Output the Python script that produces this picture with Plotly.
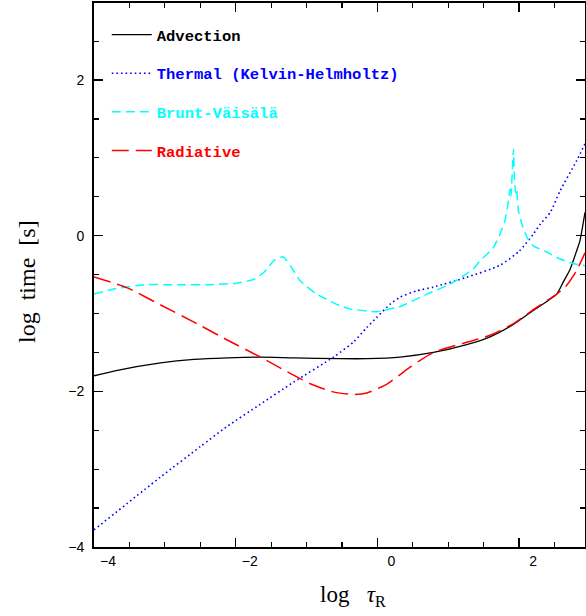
import plotly.graph_objects as go

# ---- data (log tau_R vs log time [s]) ----
advection_x = [-4.00, -3.67, -3.06, -2.59, -2.12, -1.65, -1.18, -0.53, -0.15, 0.32, 0.79, 1.26, 1.59, 1.92, 2.20, 2.53, 2.62, 2.72, 2.81, 2.86, 2.93]
advection_y = [-1.80, -1.73, -1.635, -1.59, -1.57, -1.56, -1.57, -1.58, -1.58, -1.56, -1.50, -1.40, -1.30, -1.14, -0.96, -0.75, -0.60, -0.43, -0.20, -0.06, 0.30]

thermal_x = [-4.00, -3.06, -2.50, -2.12, -1.66, -1.18, -0.62, -0.33, -0.15, -0.01, 0.18, 0.32, 0.55, 0.79, 1.26, 1.73, 2.00, 2.20, 2.30, 2.44, 2.58, 2.81, 2.93]
thermal_y = [-3.78, -3.10, -2.71, -2.45, -2.17, -1.88, -1.56, -1.36, -1.18, -1.05, -0.88, -0.79, -0.71, -0.66, -0.535, -0.38, -0.20, 0.02, 0.15, 0.30, 0.58, 0.96, 1.18]

brunt_x = [-4.00, -3.72, -3.29, -2.82, -2.35, -1.98, -1.74, -1.60, -1.46, -1.33, -1.23, -1.09, -0.86, -0.53, -0.39, -0.01, 0.32, 0.70, 1.03, 1.35, 1.45, 1.59, 1.64, 1.73, 1.80, 1.85, 1.87, 1.885, 1.92, 1.935, 1.95, 1.965, 1.99, 2.04, 2.11, 2.20, 2.39, 2.58, 2.77, 2.93]
brunt_y = [-0.75, -0.685, -0.63, -0.63, -0.63, -0.61, -0.56, -0.47, -0.32, -0.27, -0.385, -0.58, -0.75, -0.90, -0.94, -0.976, -0.91, -0.75, -0.62, -0.43, -0.32, -0.20, -0.15, 0.02, 0.19, 0.45, 0.60, 0.50, 1.11, 0.72, 0.55, 0.60, 0.32, 0.15, -0.02, -0.13, -0.21, -0.30, -0.36, -0.385]

radiative_x = [-4.00, -3.53, -3.06, -2.59, -2.12, -1.65, -1.27, -0.94, -0.61, -0.33, -0.15, 0.13, 0.46, 0.79, 1.26, 1.59, 1.92, 2.20, 2.53, 2.65, 2.81, 2.93]
radiative_y = [-0.53, -0.67, -0.89, -1.11, -1.34, -1.56, -1.75, -1.905, -2.01, -2.04, -2.02, -1.91, -1.69, -1.50, -1.37, -1.28, -1.13, -0.95, -0.75, -0.66, -0.45, -0.22]

series_names = ["Advection", "Thermal (Kelvin-Helmholtz)", "Brunt-V\u00e4is\u00e4l\u00e4", "Radiative"]
series_colors = ["#000000", "#0000ff", "#00ffff", "#ff0000"]

fig = go.Figure()

def add(x, y, i, dash, width, shape="spline", smoothing=0.6):
    fig.add_trace(go.Scatter(
        x=x, y=y, mode="lines",
        name="<span style='color:%s'>%s</span>" % (series_colors[i], series_names[i]),
        legendgroup="g%d" % i,
        line=dict(color=series_colors[i], dash=dash, width=width, shape=shape, smoothing=smoothing),
    ))

add(advection_x, advection_y, 0, "solid", 1.3)
add(thermal_x, thermal_y, 1, "1.6px,3px", 1.6)
add(brunt_x, brunt_y, 2, "9px,5px", 1.5, smoothing=0.4)
add(radiative_x, radiative_y, 3, "17px,7px", 1.5)

axis_common = dict(
    showline=True, linecolor="black", linewidth=2, mirror="allticks",
    ticks="inside", ticklen=9, tickwidth=1.5, tickcolor="black",
    showgrid=False, zeroline=False, automargin=False,
    tickfont=dict(family="Liberation Sans, Arial, sans-serif", size=14, color="black"),
)

fig.update_layout(
    template="none",
    width=586, height=616,
    margin=dict(l=94, r=1, t=3, b=69, autoexpand=False),
    plot_bgcolor="white", paper_bgcolor="white",
    xaxis=dict(range=[-4, 2.93], tickmode="linear", tick0=-4, dtick=2,
               ticklabelshift=14,
               minor=dict(dtick=0.5, tick0=-4, ticks="inside", ticklen=5, tickwidth=1.2, tickcolor="black"),
               **axis_common),
    yaxis=dict(range=[-4, 2.99], tickmode="linear", tick0=-4, dtick=2,
               ticklabelstandoff=5,
               minor=dict(dtick=0.5, tick0=-4, ticks="inside", ticklen=5, tickwidth=1.2, tickcolor="black"),
               **axis_common),
    showlegend=True,
    legend=dict(
        x=0.026, y=0.9725, xanchor="left", yanchor="top",
        bgcolor="rgba(0,0,0,0)", borderwidth=0,
        font=dict(family="Liberation Mono, Courier New, monospace", size=15.5, color="black", weight="bold"),
        itemwidth=40, tracegroupgap=15.5, traceorder="grouped",
    ),
    annotations=[
        dict(text="log  time  [s]", xref="paper", yref="paper", x=-0.1365, y=0.489,
             textangle=-90, showarrow=False, xanchor="center", yanchor="middle",
             font=dict(family="Liberation Serif, Times New Roman, serif", size=24, color="black")),
        dict(text="log   <i>\u03c4</i><sub>R</sub>", xref="paper", yref="paper", x=0.5275, y=-0.09,
             showarrow=False, xanchor="center", yanchor="middle",
             font=dict(family="Liberation Serif, Times New Roman, serif", size=23, color="black")),
    ],
)

fig.write_html("out.html",
               config={"displayModeBar": False, "staticPlot": True},
               post_script="document.body.style.margin='0';document.body.style.padding='0';")
